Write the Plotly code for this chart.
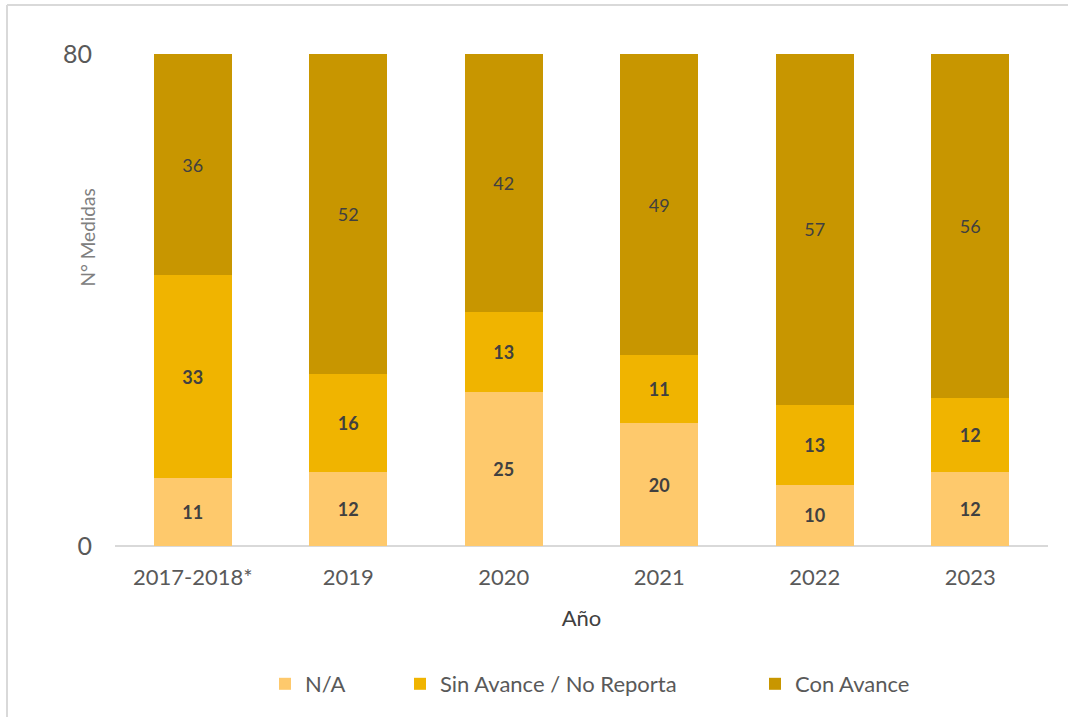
import plotly.graph_objects as go

categories = ["2017-2018*", "2019", "2020", "2021", "2022", "2023"]
na_values = [11, 12, 25, 20, 10, 12]
sin_avance_values = [33, 16, 13, 11, 13, 12]
con_avance_values = [36, 52, 42, 49, 57, 56]
series_names = ["N/A", "Sin Avance / No Reporta", "Con Avance"]
y_ticks = [0, 80]

FONT = "Lato, Open Sans, sans-serif"
colors = ["#FEC96C", "#F0B400", "#C89600"]

W, H = 1068, 717
L, R, T, B = 115, 20, 54, 171
pw, ph = W - L - R, H - T - B

def px_x(x):
    return (x - L) / pw

def px_y(y):
    return (H - B - y) / ph

fig = go.Figure()
series = [na_values, sin_avance_values, con_avance_values]
templates = ["<b>%{y}</b>", "<b>%{y}</b>", "%{y}"]
legends = ["legend", "legend2", "legend3"]
for name, vals, col, tpl, lg in zip(series_names, series, colors, templates, legends):
    fig.add_trace(go.Bar(
        x=categories, y=vals, name=name,
        marker=dict(color=col, line=dict(width=0)),
        texttemplate=tpl, textposition="inside", insidetextanchor="middle",
        textfont=dict(family=FONT, size=18, color="#404040"),
        legend=lg, width=0.5, showlegend=True,
    ))

leg_common = dict(orientation="h", yanchor="middle", xanchor="left",
                  font=dict(family=FONT, size=22, color="#595959"),
                  bgcolor="rgba(0,0,0,0)", visible=True)
legend_x = [265, 400, 755]
fig.update_layout(
    barmode="stack",
    width=W, height=H,
    showlegend=True,
    margin=dict(l=L, r=R, t=T, b=B),
    paper_bgcolor="white", plot_bgcolor="white",
    font=dict(family=FONT, color="#595959"),
    legend=dict(x=px_x(legend_x[0]), y=px_y(684), **leg_common),
    legend2=dict(x=px_x(legend_x[1]), y=px_y(684), **leg_common),
    legend3=dict(x=px_x(legend_x[2]), y=px_y(684), **leg_common),
    xaxis=dict(
        showgrid=False, showline=False, ticks="",
        tickfont=dict(family=FONT, size=22, color="#595959"),
        ticklabelstandoff=16,
        title=dict(text="Año", font=dict(family=FONT, size=22, color="#404040"), standoff=21),
    ),
    yaxis=dict(
        range=[0, 80], tickvals=y_ticks, showgrid=True, gridcolor="#D9D9D9", gridwidth=1.5,
        zeroline=True, zerolinecolor="#D9D9D9", zerolinewidth=2, showline=False,
        tickfont=dict(family=FONT, size=25, color="#595959"),
        ticklabelstandoff=22,
    ),
    annotations=[dict(
        text="N° Medidas", textangle=-90, xref="paper", yref="paper",
        x=px_x(73), y=px_y(238), showarrow=False,
        font=dict(family=FONT, size=19, color="#808080"),
    )],
    shapes=[
        dict(type="line", xref="paper", yref="paper", x0=px_x(7), x1=px_x(1068),
             y0=px_y(5), y1=px_y(5), line=dict(color="#D9D9D9", width=2)),
        dict(type="line", xref="paper", yref="paper", x0=px_x(7), x1=px_x(7),
             y0=px_y(5), y1=px_y(717), line=dict(color="#D9D9D9", width=2)),
    ],
)

fig.write_html("out.html", config={"displayModeBar": False},
               post_script="document.body.style.margin='0';")
